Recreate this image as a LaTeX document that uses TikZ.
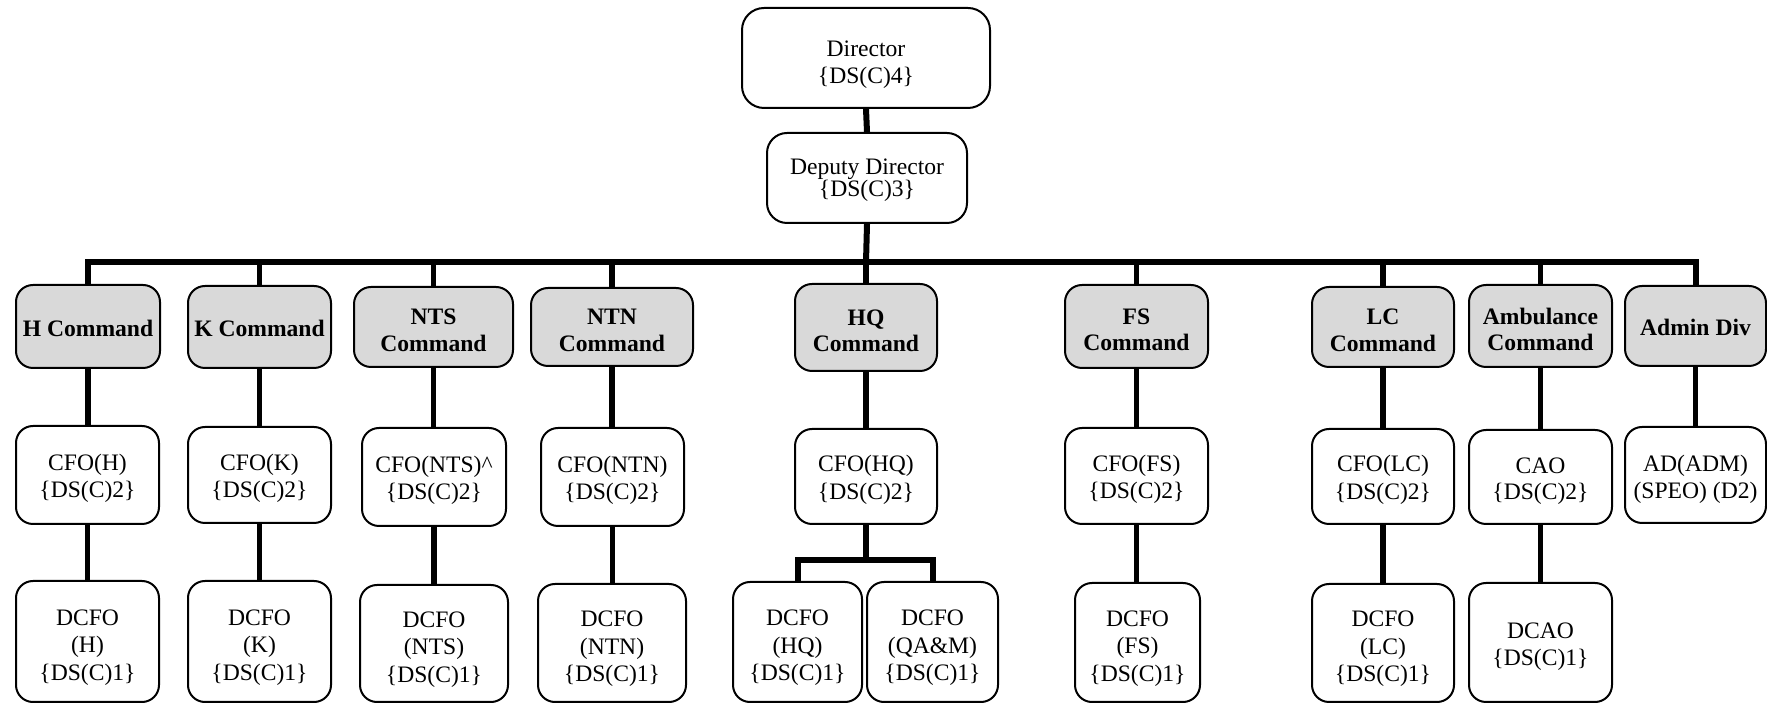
\documentclass[tikz,border=0pt]{standalone}
\usepackage{fontspec}
\setmainfont{Liberation Serif}
% invisible strut that lowers a node's text inside its fixed-size box
\newcommand\lift[1]{\rule{0pt}{#1}}
% lets lines sit closer than their glyph extents would allow
\newcommand\tightlines{\lineskiplimit=-100pt\relax}
\begin{document}
\begin{tikzpicture}[x=0.5pt,y=-0.5pt,
  box/.style={draw=black, line width=1pt, rounded corners=8.5pt, fill=white,
    inner sep=0pt, align=center},
  post/.style={box, font=\fontsize{11.8}{13.8}\selectfont},
  cmd/.style={box, fill=cmdgray, font=\fontsize{11.8}{13.3}\selectfont\bfseries},
  bus/.style={line width=3pt, line join=miter},
  link/.style={line width=2.75pt}]
\definecolor{cmdgray}{HTML}{D9D9D9}
\useasboundingbox (0,0) rectangle (1767,704);
\clip (0,0) rectangle (1767,704);

% top management
\node[post, rounded corners=11pt, minimum width=124pt, minimum height=50pt,
  font=\fontsize{11.8}{13.5}\selectfont] (dir) at (866,58) {\lift{14.4pt}Director\\\{DS(C)4\}};
\node[post, rounded corners=10pt, minimum width=100pt, minimum height=45pt,
  font=\fontsize{11.8}{10.7}\selectfont\tightlines] (dep) at (867,178) {\lift{10.2pt}Deputy Director\\\{DS(C)3\}};

% commands
\node[cmd, minimum width=72pt,   minimum height=41.5pt] (hc)   at (88,326.5)    {\lift{10pt}H Command};
\node[cmd, minimum width=71.5pt, minimum height=41pt]   (kc)   at (259.5,327)   {\lift{10pt}K Command};
\node[cmd, minimum width=79.5pt, minimum height=40pt]   (ntsc) at (433.5,327)   {\lift{11pt}NTS\\Command};
\node[cmd, minimum width=81pt,   minimum height=39pt]   (ntnc) at (612,327)     {\lift{11pt}NTN\\Command};
\node[cmd, minimum width=71pt,   minimum height=43.5pt] (hqc)  at (866,327.5)   {\lift{11pt}HQ\\Command};
\node[cmd, minimum width=71.5pt, minimum height=41.5pt] (fsc)  at (1136.5,326.5){\lift{11pt}FS\\Command};
\node[cmd, minimum width=71pt,   minimum height=40pt]   (lcc)  at (1383,327)    {\lift{11pt}LC\\Command};
\node[cmd, minimum width=71.5pt, minimum height=41pt]   (ambc) at (1540.5,326)  {\lift{11.5pt}Ambulance\\Command};
\node[cmd, minimum width=70.5pt, minimum height=40pt]   (admc) at (1695.5,326)  {\lift{10pt}Admin Div};

% chief officers
\begin{scope}[every node/.append style={font=\fontsize{11.8}{12.5}\selectfont}]
\node[post, minimum width=71.5pt, minimum height=49pt]   (cfoh)   at (87.5,475)   {\lift{11.7pt}CFO(H)\\\{DS(C)2\}};
\node[post, minimum width=71.5pt, minimum height=48pt]   (cfok)   at (259.5,475)  {\lift{11.7pt}CFO(K)\\\{DS(C)2\}};
\node[post, minimum width=72pt,   minimum height=49pt]   (cfonts) at (434,477)    {\lift{11.7pt}CFO(NTS)\^{}\\\{DS(C)2\}};
\node[post, minimum width=71.5pt, minimum height=49pt]   (cfontn) at (612.5,477)  {\lift{11.7pt}CFO(NTN)\\\{DS(C)2\}};
\node[post, minimum width=71pt,   minimum height=47.5pt] (cfohq)  at (866,476.5)  {\lift{11.7pt}CFO(HQ)\\\{DS(C)2\}};
\node[post, minimum width=71.5pt, minimum height=48pt]   (cfofs)  at (1136.5,476) {\lift{11.7pt}CFO(FS)\\\{DS(C)2\}};
\node[post, minimum width=71pt,   minimum height=47.5pt] (cfolc)  at (1383,476.5) {\lift{11.7pt}CFO(LC)\\\{DS(C)2\}};
\end{scope}
\node[post, minimum width=71.5pt, minimum height=47pt,
  font=\fontsize{11.8}{13.3}\selectfont] (cao) at (1540.5,477) {\lift{12.1pt}CAO\\\{DS(C)2\}};
\node[post, minimum width=70.5pt, minimum height=48pt,
  font=\fontsize{11.8}{13.3}\selectfont] (adm) at (1695.5,475) {\lift{12.5pt}AD(ADM)\\(SPEO) (D2)};

% deputy chief officers
\node[post, minimum width=71.5pt, minimum height=60.5pt] (dh)   at (87.5,641.5)  {\lift{13.8pt}DCFO\\(H)\\\{DS(C)1\}};
\node[post, minimum width=71.5pt, minimum height=60.5pt] (dk)   at (259.5,641.5) {\lift{13.8pt}DCFO\\(K)\\\{DS(C)1\}};
\node[post, minimum width=74pt,   minimum height=58.5pt] (dnts) at (434,643.5)   {\lift{13.8pt}DCFO\\(NTS)\\\{DS(C)1\}};
\node[post, minimum width=74pt,   minimum height=59pt]   (dntn) at (612,643)     {\lift{13.8pt}DCFO\\(NTN)\\\{DS(C)1\}};
\node[post, minimum width=64.5pt, minimum height=60pt]   (dhq)  at (797.5,642)   {\lift{13.8pt}DCFO\\(HQ)\\\{DS(C)1\}};
\node[post, minimum width=65.5pt, minimum height=60pt]   (dqa)  at (932.5,642)   {\lift{13.8pt}DCFO\\(QA\&M)\\\{DS(C)1\}};
\node[post, minimum width=62.5pt, minimum height=59.5pt] (dfs)  at (1137.5,642.5){\lift{13.8pt}DCFO\\(FS)\\\{DS(C)1\}};
\node[post, minimum width=71pt,   minimum height=59pt]   (dlc)  at (1383,643)    {\lift{13.8pt}DCFO\\(LC)\\\{DS(C)1\}};
\node[post, minimum width=71.5pt, minimum height=59.5pt,
  font=\fontsize{11.8}{13.3}\selectfont] (dcao) at (1540.5,642.5) {\lift{11.8pt}DCAO\\\{DS(C)1\}};

% connectors
\coordinate (bus) at (866,262);
\coordinate (hqbus) at (866,560);
\draw[bus] (dir.south) -- (dep.north);
\draw[bus] (dep.south) -- (bus);
\draw[bus] (hc.north) |- (bus) -| (admc.north);
\foreach \c in {kc,ntsc,ntnc,hqc,fsc,lcc,ambc}
  \draw[link] (\c.north) -- (\c.north |- bus);
\foreach \a/\b in {hc/cfoh,kc/cfok,ntsc/cfonts,ntnc/cfontn,hqc/cfohq,fsc/cfofs,lcc/cfolc,ambc/cao,admc/adm}
  \draw[link] (\a.south) -- (\a.south |- \b.north);
\foreach \a/\b in {cfoh/dh,cfok/dk,cfonts/dnts,cfontn/dntn,cfofs/dfs,cfolc/dlc,cao/dcao}
  \draw[link] (\a.south) -- (\a.south |- \b.north);
\draw[link] (cfohq.south) -- (hqbus);
\draw[bus] (dhq.north) |- (hqbus) -| (dqa.north);
\end{tikzpicture}
\end{document}
